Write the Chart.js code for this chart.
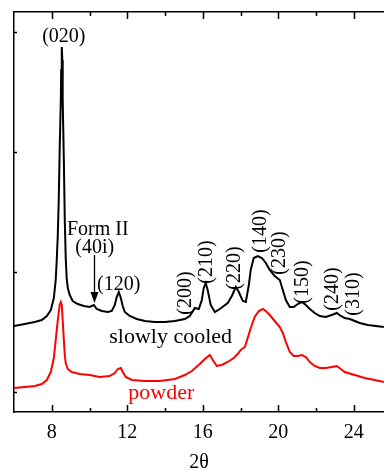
<!DOCTYPE html>
<html>
<head>
<meta charset="utf-8">
<script src="https://cdn.jsdelivr.net/npm/chart.js@4/dist/chart.umd.min.js"></script>
<style>
  html, body { margin: 0; padding: 0; background: #ffffff; overflow: hidden; }
  canvas { display: block; }
</style>
</head>
<body>
<canvas id="c" width="384" height="470"></canvas>
<script>
// ---- Data (2θ in degrees, intensity in arbitrary units) ----
const twoThetaCooled = [5.99,6.57,7.10,7.47,7.74,7.95,8.11,8.21,8.26,8.32,8.37,8.42,8.48,8.50,8.53,8.56,8.58,8.64,8.69,8.74,8.79,8.85,8.95,9.11,9.38,9.70,10.01,10.23,10.38,10.65,10.97,11.18,11.34,11.44,11.55,11.66,11.76,11.87,12.13,12.50,12.93,13.46,13.99,14.52,15.05,15.31,15.58,15.79,15.95,16.05,16.16,16.26,16.42,16.64,16.90,17.32,17.54,17.75,17.91,18.12,18.28,18.44,18.54,18.70,18.91,19.13,19.34,19.55,19.81,20.08,20.24,20.40,20.61,20.82,21.03,21.25,21.46,21.67,21.93,22.20,22.52,22.83,23.10,23.31,23.52,23.79,24.05,24.32,24.74,25.17,25.59];
const intensityCooled = [86,88,90,92,96,102,114,132,150,177,212,262,312,342,365,352,312,252,192,154,134,124,117,111,108,106,105,107,103,101,100,101,107,115,120,114,106,100,96,93,91,90,90,91,93,96,104,103,112,124,129,122,107,100,103,109,116,125,120,111,110,127,142,154,156,154,149,142,136,132,122,112,105,105,108,110,107,103,99,96,95,97,99,96,94,93,91,89,87,86,85];

const twoThetaPowder = [5.99,6.57,7.10,7.47,7.74,7.95,8.11,8.21,8.32,8.42,8.48,8.53,8.58,8.64,8.69,8.74,8.85,9.06,9.48,10.01,10.54,11.07,11.34,11.50,11.66,11.76,11.92,12.24,12.93,13.72,14.52,15.05,15.42,15.84,16.11,16.37,16.53,16.74,17.01,17.32,17.64,17.85,18.01,18.23,18.38,18.54,18.75,18.97,19.18,19.34,19.55,19.81,20.08,20.24,20.40,20.61,20.82,21.03,21.25,21.46,21.67,21.93,22.20,22.52,22.83,23.10,23.31,23.52,24.05,24.58,25.11,25.59];
const intensityPowder = [24,25,26,28,32,40,54,72,92,107,110,107,92,72,57,49,43,40,38,37,35,36,39,43,44,40,35,32,31,31,33,37,41,48,53,57,52,46,47,50,54,58,62,65,74,84,95,101,103,101,97,91,85,79,70,60,56,56,57,55,50,46,44,44,45,46,43,40,37,34,32,30];

const seriesNames = ['slowly cooled', 'powder'];
const xMajorTicks = [8, 12, 16, 20, 24];
const xMinorTicks = [10, 14, 18, 22];
const yTicks = [20, 140, 260, 380];
const xRange = [6, 25.6];
const yRange = [0, 400];

// Peak labels: text, 2θ position, intensity position, rotated?
const peakLabels = ['(020)', '(120)', '(200)', '(210)', '(220)', '(140)', '(230)', '(150)', '(240)', '(310)'];
const peakLabelX = [8.64, 11.55, 15.10, 16.21, 17.70, 19.07, 20.08, 21.30, 22.89, 24.00];
const peakLabelY = [375, 127, 119, 150, 144, 181, 159, 130, 123, 118];
const peakLabelRotated = [false, false, true, true, true, true, true, true, true, true];

const formLabelLines = ['Form II', '(40i)'];
const formLabelX = [10.44, 10.28];
const formLabelY = [182, 164];
const arrowX = 10.23;
const arrowFromY = 157;
const arrowToY = 109;

const seriesLabelX = [14.30, 13.80];
const seriesLabelY = [69, 13];
const seriesColors = ['#000000', '#ff0000'];

const SERIF = '"Liberation Serif", "DejaVu Serif", serif';

function toXY(xs, ys) { return xs.map((x, i) => ({ x: x, y: ys[i] })); }

const insideTicks = {
  id: 'insideTicks',
  afterDraw(chart) {
    const ctx = chart.ctx, a = chart.chartArea;
    const xs = chart.scales.x, ys = chart.scales.y;
    ctx.save();
    ctx.strokeStyle = '#000';
    ctx.lineWidth = 1.5;
    ctx.beginPath();
    xs.ticks.forEach(t => {
      const px = Math.round(xs.getPixelForValue(t.value)) + 0.5;
      const len = xMajorTicks.includes(t.value) ? 7 : 4;
      ctx.moveTo(px, a.bottom); ctx.lineTo(px, a.bottom - len);
      ctx.moveTo(px, a.top); ctx.lineTo(px, a.top + len);
    });
    ys.ticks.forEach(t => {
      const py = Math.round(ys.getPixelForValue(t.value)) + 0.5;
      ctx.moveTo(a.left, py); ctx.lineTo(a.left + 3, py);
    });
    ctx.stroke();
    ctx.restore();
  }
};

const annotations = {
  id: 'annotations',
  afterDatasetsDraw(chart) {
    const ctx = chart.ctx;
    const xs = chart.scales.x, ys = chart.scales.y;
    ctx.save();
    ctx.fillStyle = '#000';
    ctx.textAlign = 'center';
    ctx.textBaseline = 'middle';
    ctx.font = '20px ' + SERIF;
    peakLabels.forEach((txt, i) => {
      const px = xs.getPixelForValue(peakLabelX[i]);
      const py = ys.getPixelForValue(peakLabelY[i]);
      if (peakLabelRotated[i]) {
        ctx.save();
        ctx.translate(px, py);
        ctx.rotate(-Math.PI / 2);
        ctx.fillText(txt, 0, 0);
        ctx.restore();
      } else {
        ctx.fillText(txt, px, py);
      }
    });
    formLabelLines.forEach((txt, i) => {
      ctx.fillText(txt, xs.getPixelForValue(formLabelX[i]), ys.getPixelForValue(formLabelY[i]));
    });
    // arrow
    const ax = Math.round(xs.getPixelForValue(arrowX)) + 0.5;
    const ay1 = ys.getPixelForValue(arrowFromY);
    const ay2 = ys.getPixelForValue(arrowToY);
    ctx.strokeStyle = '#000';
    ctx.lineWidth = 1.3;
    ctx.beginPath();
    ctx.moveTo(ax, ay1); ctx.lineTo(ax, ay2 - 8);
    ctx.stroke();
    ctx.beginPath();
    ctx.moveTo(ax, ay2);
    ctx.lineTo(ax - 4, ay2 - 11);
    ctx.lineTo(ax + 4, ay2 - 11);
    ctx.closePath();
    ctx.fill();
    // series labels
    ctx.font = '22px ' + SERIF;
    ctx.textBaseline = 'alphabetic';
    seriesNames.forEach((txt, i) => {
      ctx.fillStyle = seriesColors[i];
      ctx.fillText(txt, xs.getPixelForValue(seriesLabelX[i]), ys.getPixelForValue(seriesLabelY[i]));
    });
    ctx.restore();
  }
};

new Chart(document.getElementById('c'), {
  type: 'line',
  data: {
    datasets: [
      { label: seriesNames[0], data: toXY(twoThetaCooled, intensityCooled), borderColor: seriesColors[0], borderWidth: 2, pointRadius: 0, tension: 0, fill: false },
      { label: seriesNames[1], data: toXY(twoThetaPowder, intensityPowder), borderColor: seriesColors[1], borderWidth: 2, pointRadius: 0, tension: 0, fill: false }
    ]
  },
  options: {
    responsive: false,
    animation: false,
    devicePixelRatio: 1,
    layout: { padding: { left: 14, top: 12, right: 0, bottom: 0 } },
    plugins: { legend: { display: false }, tooltip: { enabled: false } },
    scales: {
      x: {
        type: 'linear', position: 'bottom', min: xRange[0], max: xRange[1],
        afterBuildTicks: s => { s.ticks = xMajorTicks.concat(xMinorTicks).sort((a, b) => a - b).map(v => ({ value: v })); },
        afterFit: s => { s.height = 58; },
        ticks: {
          autoSkip: false, maxRotation: 0, padding: 9, color: '#000',
          font: { family: SERIF, size: 20, lineHeight: 1.2 },
          callback: v => xMajorTicks.includes(v) ? String(v) : ''
        },
        grid: { display: false, drawTicks: false },
        border: { display: true, color: '#000', width: 1.5 },
        title: { display: true, text: '2θ', color: '#000', font: { family: SERIF, size: 20, lineHeight: 0.7 }, padding: { top: 11, bottom: 0 } }
      },
      x2: {
        type: 'linear', position: 'top', min: xRange[0], max: xRange[1],
        afterFit: s => { s.height = 0; },
        ticks: { display: false },
        grid: { display: false, drawTicks: false },
        border: { display: true, color: '#000', width: 1.5 }
      },
      y: {
        type: 'linear', position: 'left', min: yRange[0], max: yRange[1],
        afterBuildTicks: s => { s.ticks = yTicks.map(v => ({ value: v })); },
        afterFit: s => { s.width = 0; },
        ticks: { display: false },
        grid: { display: false, drawTicks: false },
        border: { display: true, color: '#000', width: 1.5 }
      }
    }
  },
  plugins: [insideTicks, annotations]
});
</script>
</body>
</html>
